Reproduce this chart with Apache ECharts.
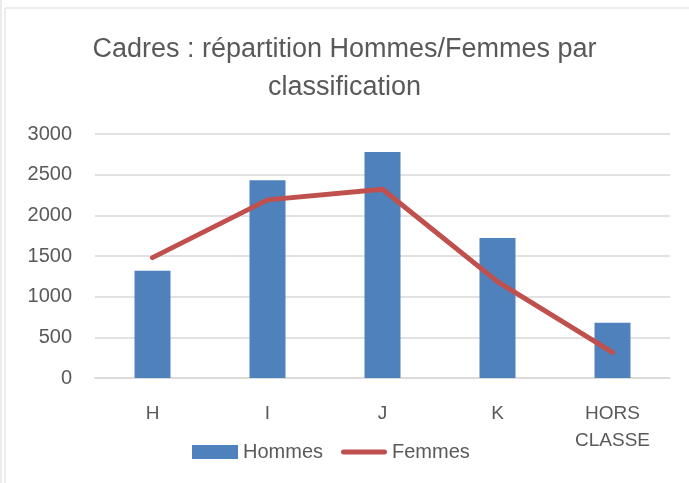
<!DOCTYPE html>
<html>
<head>
<meta charset="utf-8">
<script src="https://cdn.jsdelivr.net/npm/echarts@6/dist/echarts.min.js"></script>
<style>
  html, body { margin: 0; padding: 0; background: #fff; }
  #chartmain { width: 689px; height: 483px; }
</style>
</head>
<body>
<div id="chartmain"></div>
<script>
// données
var categories = ['H', 'I', 'J', 'K', 'HORS\nCLASSE'];
var hommes = [1320, 2430, 2780, 1720, 680];
var femmes = [1480, 2190, 2320, 1185, 315];
var yTicks = { min: 0, max: 3000, interval: 500 };

var textColor = '#595959';
var fontName = 'Liberation Sans, sans-serif';

var option = {
    animation: false,
    textStyle: { fontFamily: fontName },
    title: {
        text: 'Cadres : répartition Hommes/Femmes par\nclassification',
        left: 'center',
        top: 26,
        textStyle: { fontSize: 27, fontWeight: 'normal', color: textColor, lineHeight: 38, fontFamily: fontName }
    },
    legend: {
        top: 437,
        left: 187,
        itemWidth: 46,
        itemHeight: 14,
        itemGap: 18,
        textStyle: { fontSize: 20, color: textColor, fontFamily: fontName },
        data: [
            { name: 'Hommes', icon: 'rect' },
            // trait arrondi pour la courbe
            { name: 'Femmes', icon: 'path://M2.5,0 L43.5,0 A2.5,2.5 0 0 1 43.5,5 L2.5,5 A2.5,2.5 0 0 1 2.5,0 Z' }
        ]
    },
    grid: { left: 95, right: 19, top: 134, bottom: 105 },
    xAxis: {
        type: 'category',
        data: categories,
        axisLine: { lineStyle: { color: '#d9d9d9', width: 1.5 } },
        axisTick: { show: false },
        axisLabel: { fontSize: 19, color: textColor, margin: 22, lineHeight: 27, fontFamily: fontName }
    },
    yAxis: {
        type: 'value',
        min: yTicks.min,
        max: yTicks.max,
        interval: yTicks.interval,
        axisLine: { show: false },
        axisTick: { show: false },
        splitLine: { lineStyle: { color: '#d9d9d9', width: 1.5 } },
        axisLabel: {
            fontSize: 20, color: textColor, margin: 23, fontFamily: fontName,
            formatter: function (v) { return String(v); }
        }
    },
    series: [{
        name: 'Hommes',
        type: 'bar',
        data: hommes,
        barWidth: 36,
        itemStyle: { color: '#4f81bd' }
    }, {
        name: 'Femmes',
        type: 'line',
        data: femmes,
        symbol: 'none',
        lineStyle: { color: '#c0504d', width: 5, cap: 'round', join: 'round' },
        itemStyle: { color: '#c0504d' }
    }],
    graphic: [
        { type: 'line', shape: { x1: 1, y1: 0, x2: 1, y2: 483 }, style: { stroke: '#d9d9d9', lineWidth: 1 } },
        { type: 'line', shape: { x1: 5, y1: 8, x2: 5, y2: 483 }, style: { stroke: '#d9d9d9', lineWidth: 1 } },
        { type: 'line', shape: { x1: 5, y1: 8, x2: 689, y2: 8 }, style: { stroke: '#d9d9d9', lineWidth: 1 } }
    ]
};

var myChart = echarts.init(document.getElementById('chartmain'));
myChart.setOption(option);
</script>
</body>
</html>
